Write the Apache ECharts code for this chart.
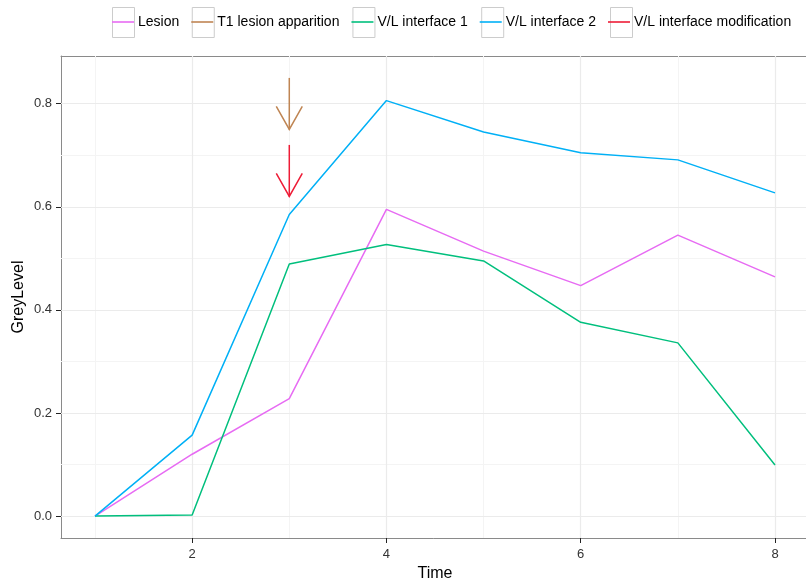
<!DOCTYPE html>
<html>
<head>
<meta charset="utf-8">
<script src="https://cdn.jsdelivr.net/npm/echarts@6/dist/echarts.min.js"></script>
<style>html,body{margin:0;padding:0;background:#fff}#c{width:806px;height:579px}</style>
</head>
<body>
<div id="c"></div>
<script>
// ---- data ----
var time = [1, 2, 3, 4, 5, 6, 7, 8];
var lesion = [0, 0.12, 0.228, 0.595, 0.514, 0.447, 0.545, 0.464];
var vl1 = [0, 0.002, 0.489, 0.527, 0.495, 0.376, 0.336, 0.099];
var vl2 = [0, 0.157, 0.585, 0.806, 0.745, 0.705, 0.691, 0.627];
// arrows: [time, start level, end (tip) level]
var t1Arrow = [[3, 0.85, 0.75]];
var modArrow = [[3, 0.72, 0.62]];
var seriesNames = ['Lesion', 'T1 lesion apparition', 'V/L interface 1', 'V/L interface 2', 'V/L interface modification'];
var xMajor = [2, 4, 6, 8];
var xMinor = [1, 3, 5, 7];
var yMajor = [0, 0.2, 0.4, 0.6, 0.8];
var yMinor = [0.1, 0.3, 0.5, 0.7];
var yLabels = ['0.0', '0.2', '0.4', '0.6', '0.8'];

// ---- styles ----
var colors = {
  'Lesion': '#E76BF3',
  'T1 lesion apparition': '#BF8553',
  'V/L interface 1': '#00BF7D',
  'V/L interface 2': '#00B0F6',
  'V/L interface modification': '#EE1C36'
};
var FONT = '"Liberation Sans", Arial, Helvetica, sans-serif';
var BORDER = '#8a8a8a';

function pairs(xs, ys) { return xs.map(function (x, i) { return [x, ys[i]]; }); }

function arrowSeries(name, data) {
  return {
    name: name,
    type: 'custom',
    z: 3,
    silent: true,
    itemStyle: { color: colors[name] },
    data: data,
    renderItem: function (params, api) {
      var top = api.coord([api.value(0), api.value(1)]);
      var tip = api.coord([api.value(0), api.value(2)]);
      var hw = 13, hh = 23;
      var st = { stroke: colors[name], lineWidth: 1.5, fill: null };
      return {
        type: 'group',
        children: [
          { type: 'line', shape: { x1: top[0], y1: top[1], x2: tip[0], y2: tip[1] }, style: st },
          { type: 'polyline', shape: { points: [[tip[0] - hw, tip[1] - hh], [tip[0], tip[1]], [tip[0] + hw, tip[1] - hh]] }, style: st }
        ]
      };
    }
  };
}

function lineSeries(name, ys) {
  return {
    name: name,
    type: 'line',
    z: 3,
    data: pairs(time, ys),
    symbol: 'none',
    showSymbol: false,
    lineStyle: { color: colors[name], width: 1.5, type: 'solid' },
    itemStyle: { color: colors[name] },
    emphasis: { disabled: true },
    animation: false
  };
}

var gridMarks = [];
xMinor.forEach(function (v) { gridMarks.push({ xAxis: v, lineStyle: { color: '#F4F4F4', width: 1, type: 'solid' } }); });
yMinor.forEach(function (v) { gridMarks.push({ yAxis: v, lineStyle: { color: '#F4F4F4', width: 1, type: 'solid' } }); });
xMajor.forEach(function (v) { gridMarks.push({ xAxis: v, lineStyle: { color: '#EBEBEB', width: 1.2, type: 'solid' } }); });
yMajor.forEach(function (v) { gridMarks.push({ yAxis: v, lineStyle: { color: '#EBEBEB', width: 1.2, type: 'solid' } }); });

var lineIcon = 'path://M0,0 M22,30 M0,14.2 L22,14.2 L22,15.8 L0,15.8 Z';

var legendCommon = {
  left: 112,
  top: 7,
  itemWidth: 22,
  itemHeight: 30,
  itemGap: 12,
  selectedMode: false,
  padding: 0,
  textStyle: { fontFamily: FONT, fontSize: 14, color: '#000', padding: [0, 0, 0, -1] }
};

var chart = echarts.init(document.getElementById('c'), null, { renderer: 'canvas' });
chart.setOption({
  animation: false,
  backgroundColor: '#fff',
  textStyle: { fontFamily: FONT },
  grid: {
    left: 61, right: -3, top: 56, bottom: 41,
    show: false,
    containLabel: false,
    outerBoundsMode: 'none'
  },
  legend: [
    Object.assign({}, legendCommon, {
      z: 1,
      data: seriesNames.map(function (n) { return { name: n, icon: 'rect', itemStyle: { color: '#fff', borderColor: '#CCCCCC', borderWidth: 1 } }; }),
      textStyle: Object.assign({}, legendCommon.textStyle, { color: 'rgba(0,0,0,0)' })
    }),
    Object.assign({}, legendCommon, {
      z: 2,
      data: seriesNames.map(function (n) { return { name: n, icon: lineIcon, itemStyle: { color: colors[n], borderWidth: 0 } }; })
    })
  ],
  xAxis: [{
    type: 'value',
    position: 'bottom',
    min: 0.65, max: 8.35,
    name: 'Time', nameLocation: 'middle', nameGap: 22,
    nameTextStyle: { fontFamily: FONT, fontSize: 16, color: '#000' },
    axisLine: { show: true, onZero: false, lineStyle: { color: BORDER, width: 1 } },
    axisTick: { show: true, customValues: xMajor, length: 5, lineStyle: { color: '#222', width: 1 } },
    axisLabel: { customValues: xMajor, fontFamily: FONT, fontSize: 13, color: '#333', margin: 10 },
    splitLine: { show: false }
  }, {
    type: 'value',
    position: 'top',
    min: 0.65, max: 8.35,
    axisLine: { show: true, onZero: false, lineStyle: { color: BORDER, width: 1 } },
    axisTick: { show: false },
    axisLabel: { show: false },
    splitLine: { show: false }
  }],
  yAxis: {
    type: 'value',
    min: -0.0425, max: 0.8925,
    name: 'GreyLevel', nameLocation: 'middle', nameGap: 34, nameRotate: 90,
    nameMoveOverlap: false,
    nameTextStyle: { fontFamily: FONT, fontSize: 16, color: '#000' },
    axisLine: { show: true, onZero: false, lineStyle: { color: BORDER, width: 1 } },
    axisTick: { show: true, customValues: yMajor, length: 5, lineStyle: { color: '#222', width: 1 } },
    axisLabel: {
      customValues: yMajor, fontFamily: FONT, fontSize: 13, color: '#333', margin: 9,
      formatter: function (v) { var i = yMajor.indexOf(Math.round(v * 10) / 10); return i >= 0 ? yLabels[i] : ''; }
    },
    splitLine: { show: false }
  },
  series: [
    {
      name: '__grid', type: 'line', data: [], z: 1, silent: true,
      markLine: { z: 1, silent: true, symbol: 'none', label: { show: false }, animation: false, lineStyle: { type: 'solid' }, data: gridMarks }
    },
    lineSeries('Lesion', lesion),
    arrowSeries('T1 lesion apparition', t1Arrow),
    lineSeries('V/L interface 1', vl1),
    lineSeries('V/L interface 2', vl2),
    arrowSeries('V/L interface modification', modArrow)
  ]
});
</script>
</body>
</html>
